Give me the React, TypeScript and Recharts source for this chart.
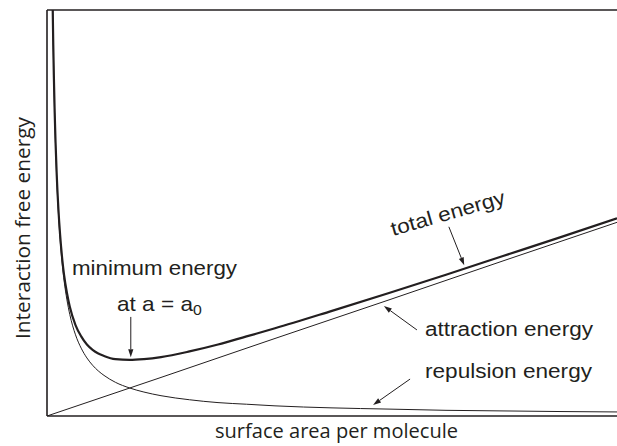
import React from "react";
import { LineChart, Line, XAxis, YAxis, ReferenceLine } from "recharts";

// surface area per molecule (arbitrary units)
const areaValues = [0.1, 0.11, 0.12, 0.135, 0.15, 0.17, 0.2, 0.23, 0.27, 0.3, 0.35, 0.4, 0.5, 0.6, 0.7, 0.8, 0.9, 1.0, 1.2, 1.45, 1.7, 2.0, 2.5, 3.0, 3.5, 4.0, 5.0, 6.0, 7.0, 8.0, 9.0, 10.0];
const repulsionValues = [10.0, 9.09, 8.33, 7.41, 6.67, 5.88, 5.0, 4.35, 3.7, 3.33, 2.86, 2.5, 2.0, 1.67, 1.43, 1.25, 1.11, 1.0, 0.83, 0.69, 0.59, 0.5, 0.4, 0.33, 0.29, 0.25, 0.2, 0.17, 0.14, 0.125, 0.11, 0.1];
const totalValues = [10.05, 9.14, 8.39, 7.47, 6.74, 5.96, 5.1, 4.46, 3.83, 3.47, 3.03, 2.69, 2.24, 1.96, 1.76, 1.63, 1.54, 1.48, 1.4, 1.38, 1.4, 1.45, 1.59, 1.76, 1.96, 2.16, 2.59, 3.03, 3.48, 3.94, 4.4, 4.87];
const attractionArea = [0, 2, 4, 6, 8, 10];
const attractionValues = [0, 0.95, 1.91, 2.86, 3.82, 4.77];

// annotation arrows [x1, y1, x2, y2] in data units (tail -> head)
const arrowMinimum = [1.47, 2.44, 1.47, 1.45];
const arrowTotal = [7.05, 4.66, 7.32, 3.71];
const arrowAttraction = [6.49, 2.12, 5.91, 2.71];
const arrowRepulsion = [6.37, 0.91, 5.72, 0.27];

const repulsionData = areaValues.map((a, i) => ({ a, v: repulsionValues[i] }));
const totalData = areaValues.map((a, i) => ({ a, v: totalValues[i] }));
const attractionData = attractionArea.map((a, i) => ({ a, v: attractionValues[i] }));

const INK = "#231f20";

const ArrowShape = (props: any) => {
  const { x1, y1, x2, y2 } = props;
  const dx = x2 - x1;
  const dy = y2 - y1;
  const len = Math.sqrt(dx * dx + dy * dy) || 1;
  const ux = dx / len;
  const uy = dy / len;
  const hl = 8;
  const hw = 2.6;
  const bx = x2 - ux * hl;
  const by = y2 - uy * hl;
  const pts = `${x2},${y2} ${bx - uy * hw},${by + ux * hw} ${bx + uy * hw},${by - ux * hw}`;
  return (
    <g>
      <line x1={x1} y1={y1} x2={bx} y2={by} stroke={INK} strokeWidth={1} />
      <polygon points={pts} fill={INK} />
    </g>
  );
};

const seg = (a: number[]) => [
  { x: a[0], y: a[1] },
  { x: a[2], y: a[3] },
];

export default function App() {
  const annFont = "'Liberation Sans', Arial, sans-serif";
  const axFont = "'Open Sans', 'Noto Sans', sans-serif";
  return (
    <div style={{ position: "absolute", left: 0, top: 0, width: 617, height: 446, background: "#fff" }}>
      <LineChart width={617} height={446} margin={{ top: 10, right: 0, left: 0, bottom: 0 }}>
        <XAxis
          type="number"
          dataKey="a"
          domain={[0, 10]}
          allowDataOverflow
          tick={false}
          tickLine={false}
          height={30}
          axisLine={{ stroke: INK, strokeWidth: 1.6 }}
        />
        <YAxis
          type="number"
          domain={[0, 10]}
          allowDataOverflow
          tick={false}
          tickLine={false}
          width={47}
          axisLine={{ stroke: INK, strokeWidth: 1.6 }}
        />
        <ReferenceLine y={10} stroke={INK} strokeWidth={1.6} />
        <Line data={attractionData} dataKey="v" type="linear" stroke={INK} strokeWidth={1} dot={false} activeDot={false} isAnimationActive={false} />
        <Line data={repulsionData} dataKey="v" type="monotone" stroke={INK} strokeWidth={1} dot={false} activeDot={false} isAnimationActive={false} />
        <Line data={totalData} dataKey="v" type="monotone" stroke={INK} strokeWidth={2.2} dot={false} activeDot={false} isAnimationActive={false} />
        <ReferenceLine segment={seg(arrowMinimum)} shape={ArrowShape} />
        <ReferenceLine segment={seg(arrowTotal)} shape={ArrowShape} />
        <ReferenceLine segment={seg(arrowAttraction)} shape={ArrowShape} />
        <ReferenceLine segment={seg(arrowRepulsion)} shape={ArrowShape} />
      </LineChart>
      <svg width={617} height={446} style={{ position: "absolute", left: 0, top: 0, pointerEvents: "none" }}>
        <g fill={INK} fontFamily={annFont} fontSize={20}>
          <text x={72} y={275} textLength={165} lengthAdjust="spacingAndGlyphs">minimum energy</text>
          <g transform="translate(117,311) scale(1.13,1)">
            <text x={0} y={0}>
              at a = a<tspan fontSize={14} dy={4}>0</tspan>
            </text>
          </g>
          <g transform="translate(393,236) rotate(-16)">
            <text x={0} y={0} textLength={118} lengthAdjust="spacingAndGlyphs">total energy</text>
          </g>
          <text x={425} y={336} textLength={168} lengthAdjust="spacingAndGlyphs">attraction energy</text>
          <text x={425} y={378} textLength={167} lengthAdjust="spacingAndGlyphs">repulsion energy</text>
        </g>
        <g fill={INK} fontFamily={axFont} fontSize={20}>
          <text x={215} y={438} textLength={243} lengthAdjust="spacingAndGlyphs">surface area per molecule</text>
          <g transform="translate(30,228) rotate(-90)">
            <text x={0} y={0} textAnchor="middle" textLength={222} lengthAdjust="spacingAndGlyphs">Interaction free energy</text>
          </g>
        </g>
      </svg>
    </div>
  );
}
